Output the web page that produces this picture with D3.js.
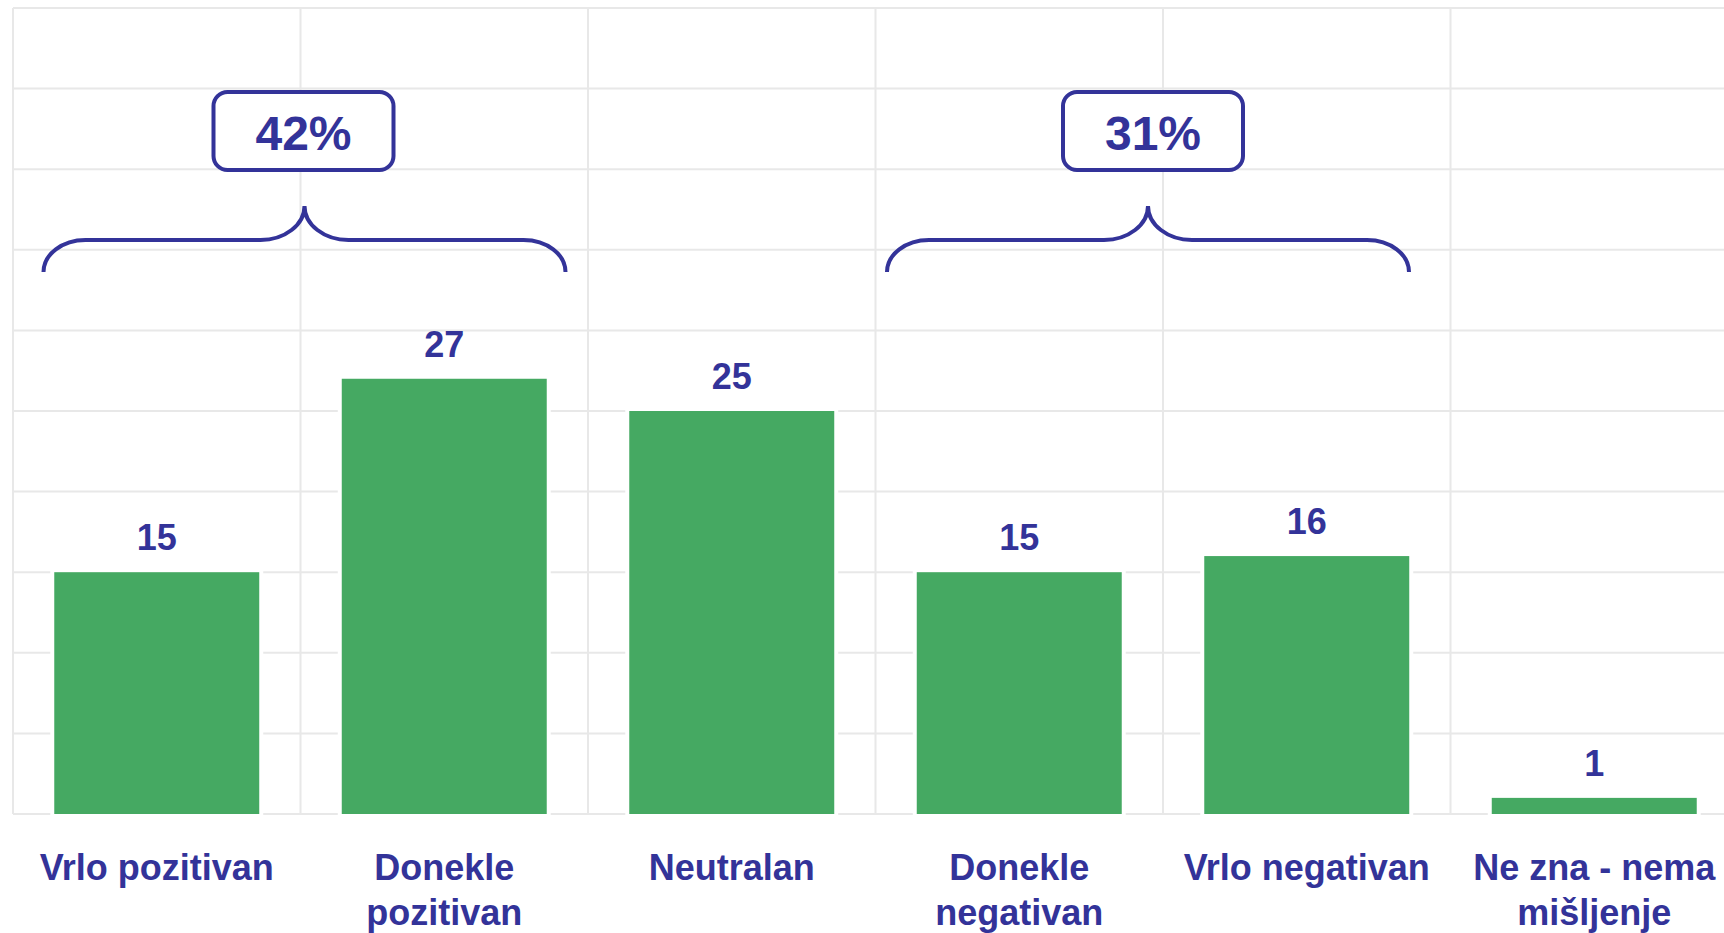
<!DOCTYPE html>
<html>
<head>
<meta charset="utf-8">
<script src="https://cdn.jsdelivr.net/npm/d3@7"></script>
<style>
  body { margin: 0; background: #fff; }
  text { font-family: "Liberation Sans", Arial, sans-serif; font-weight: bold; }
</style>
</head>
<body>
<div id="chart"></div>
<script>
// Chart data
const categories = ["Vrlo pozitivan", "Donekle pozitivan", "Neutralan", "Donekle negativan", "Vrlo negativan", "Ne zna - nema mišljenje"];
const labelLines = [["Vrlo pozitivan"], ["Donekle", "pozitivan"], ["Neutralan"], ["Donekle", "negativan"], ["Vrlo negativan"], ["Ne zna - nema", "mišljenje"]];
const values = [15, 27, 25, 15, 16, 1];
const yTicks = [0, 5, 10, 15, 20, 25, 30, 35, 40, 45, 50];
// grouped totals shown above braces
const groupLabels = ["42%", "31%"];
const groupFrom = ["Vrlo pozitivan", "Donekle negativan"];
const groupTo = ["Donekle pozitivan", "Vrlo negativan"];

const width = 1724, height = 933;
const blue = "#333399", green = "#45a962", grid = "#e8e8e8";
// braces were placed by hand in the original, shift from the band edge
const braceShift = [4, -15];
const boxShift = [3, -10];

const svg = d3.select("#chart").append("svg").attr("width", width).attr("height", height);

const x = d3.scaleBand().domain(categories).range([13, 1738]).paddingInner(0.287).paddingOuter(0.1435);
const y = d3.scaleLinear().domain([0, 50]).range([814, 8]);
const gap = (x.step() - x.bandwidth()) / 2;

// Grid
svg.append("g")
  .selectAll("line")
  .data(yTicks)
  .enter().append("line")
  .attr("x1", 13).attr("x2", 1738)
  .attr("y1", d => y(d)).attr("y2", d => y(d))
  .attr("stroke", grid).attr("stroke-width", 2);

svg.append("g")
  .selectAll("line")
  .data(categories)
  .enter().append("line")
  .attr("x1", d => x(d) - gap)
  .attr("x2", d => x(d) - gap)
  .attr("y1", y(50)).attr("y2", y(0))
  .attr("stroke", grid).attr("stroke-width", 2);

// Bars with a white halo that breaks the gridlines
const bars = svg.append("g");
bars.selectAll("rect.halo")
  .data(values)
  .enter().append("rect")
  .attr("class", "halo")
  .attr("x", (d, i) => x(categories[i]) - 4)
  .attr("y", d => y(d) - 3)
  .attr("width", x.bandwidth() + 8)
  .attr("height", d => y(0) - y(d) + 4)
  .attr("fill", "#fff");

bars.selectAll("rect.bar")
  .data(values)
  .enter().append("rect")
  .attr("class", "bar")
  .attr("x", (d, i) => x(categories[i]))
  .attr("y", d => y(d))
  .attr("width", x.bandwidth())
  .attr("height", d => y(0) - y(d))
  .attr("fill", green);

// Value labels
svg.append("g")
  .selectAll("text")
  .data(values)
  .enter().append("text")
  .attr("x", (d, i) => x(categories[i]) + x.bandwidth() / 2)
  .attr("y", d => y(d) - 22)
  .attr("text-anchor", "middle")
  .attr("fill", blue)
  .style("font-size", "36px")
  .text(d => d);

// Category labels
const cat = svg.append("g")
  .selectAll("text")
  .data(categories)
  .enter().append("text")
  .attr("text-anchor", "middle")
  .attr("fill", blue)
  .style("font-size", "36px");

cat.selectAll("tspan")
  .data((d, i) => labelLines[i].map(t => ({ t, c: d })))
  .enter().append("tspan")
  .attr("x", d => x(d.c) + x.bandwidth() / 2)
  .attr("y", (d, j) => 880 + j * 45)
  .text(d => d.t);

// Braces and total boxes
groupLabels.forEach((label, i) => {
  const edge = x(groupTo[i]) - gap;
  const xc = edge + braceShift[i];
  const xL = xc - 261, xR = xc + 261;
  const yEnd = 272, yMid = 240, yPeak = 206;
  const r = 42, rc = 44;

  const d = `M${xL},${yEnd} A${r},${yEnd - yMid} 0 0 1 ${xL + r},${yMid}` +
    ` L${xc - rc},${yMid} A${rc},${yMid - yPeak} 0 0 0 ${xc},${yPeak}` +
    ` A${rc},${yMid - yPeak} 0 0 0 ${xc + rc},${yMid}` +
    ` L${xR - r},${yMid} A${r},${yEnd - yMid} 0 0 1 ${xR},${yEnd}`;

  svg.append("path")
    .attr("d", d)
    .attr("fill", "none")
    .attr("stroke", blue)
    .attr("stroke-width", 4);

  const bx = edge + boxShift[i];
  svg.append("rect")
    .attr("x", bx - 90).attr("y", 92)
    .attr("width", 180).attr("height", 78)
    .attr("rx", 14)
    .attr("fill", "#fff")
    .attr("stroke", blue)
    .attr("stroke-width", 4);

  svg.append("text")
    .attr("x", bx).attr("y", 150)
    .attr("text-anchor", "middle")
    .attr("fill", blue)
    .style("font-size", "48px")
    .text(label);
});
</script>
</body>
</html>
